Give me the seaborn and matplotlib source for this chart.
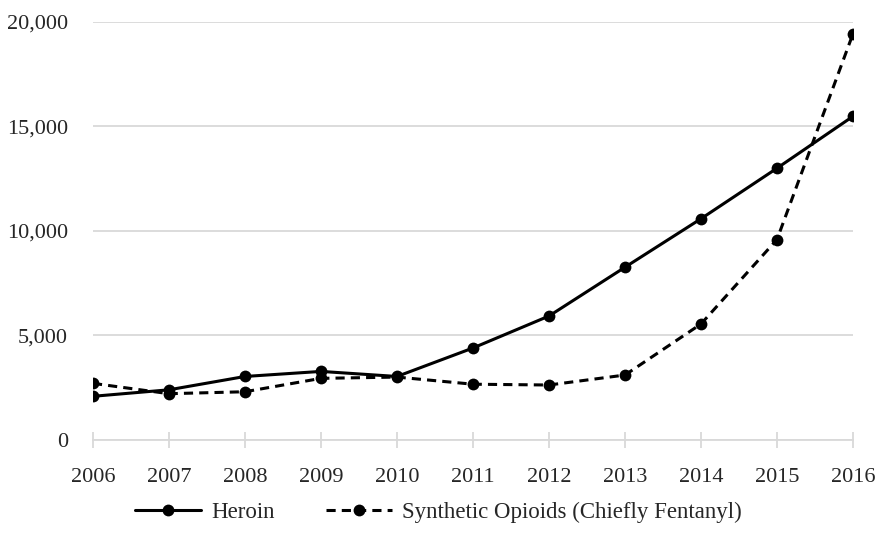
import pandas as pd
import seaborn as sns
import matplotlib.pyplot as plt
from matplotlib.ticker import FuncFormatter

# Dados
anos = [2006, 2007, 2008, 2009, 2010, 2011, 2012, 2013, 2014, 2015, 2016]
heroina = [2088, 2399, 3036, 3278, 3036, 4397, 5925, 8257, 10574, 12989, 15469]
sinteticos = [2707, 2213, 2306, 2946, 3007, 2666, 2628, 3105, 5544, 9580, 19413]
nomes = ["Heroin", "Synthetic Opioids (Chiefly Fentanyl)"]

df = pd.DataFrame({"Ano": anos, nomes[0]: heroina, nomes[1]: sinteticos})

sns.set_style("white")
plt.rcParams["font.family"] = ["Liberation Serif", "DejaVu Serif"]

fig = plt.figure(figsize=(8.77, 5.41), dpi=100)
ax = fig.add_axes([0.106, 0.1867, 0.8666, 0.7735])

sns.lineplot(data=df, x="Ano", y=nomes[0], ax=ax, color="black", lw=2.2,
             marker="o", markersize=8.5, markeredgewidth=0, label=nomes[0])
sns.lineplot(data=df, x="Ano", y=nomes[1], ax=ax, color="black", lw=2.2,
             linestyle=(0, (3, 2)), marker="o", markersize=8.5,
             markeredgewidth=0, label=nomes[1])

ax.set_xlim(2006, 2016)
ax.set_ylim(0, 20000)
ax.set_xticks(anos)
ax.set_yticks(range(0, 20001, 5000))
ax.yaxis.set_major_formatter(FuncFormatter(lambda v, p: f"{int(v):,}"))
ax.set_xlabel("")
ax.set_ylabel("")

ax.grid(axis="y", color="#d9d9d9", lw=1.3)
ax.set_axisbelow(True)
for s in ["top", "right", "left"]:
    ax.spines[s].set_visible(False)
ax.spines["bottom"].set_color("#d9d9d9")
ax.spines["bottom"].set_linewidth(1.3)

ax.tick_params(axis="x", bottom=True, direction="inout", length=11, width=1.3,
               color="#d9d9d9", labelsize=16, pad=15)
ax.tick_params(axis="y", left=False, length=0, labelsize=16, pad=18)

leg = ax.legend(loc="center", bbox_to_anchor=(0.5, 0.0536),
                bbox_transform=fig.transFigure, ncol=2, frameon=False,
                fontsize=16.5, handlelength=2.9, handletextpad=0.45,
                columnspacing=2.2, numpoints=1)

fig.savefig("out.png", dpi=100)
